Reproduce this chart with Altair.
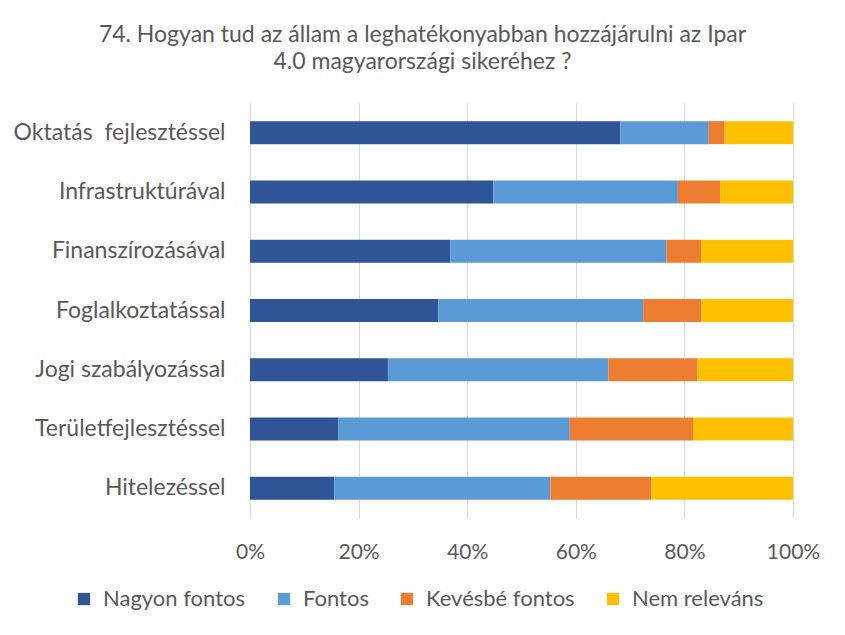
import altair as alt
import pandas as pd

categories = ["Oktatás\u00a0 fejlesztéssel", "Infrastruktúrával", "Finanszírozásával",
              "Foglalkoztatással", "Jogi szabályozással", "Területfejlesztéssel", "Hitelezéssel"]
series = ["Nagyon fontos", "Fontos", "Kevésbé fontos", "Nem releváns"]
nagyon_fontos = [68.2, 44.8, 36.9, 34.7, 25.4, 16.3, 15.5]
fontos = [16.3, 34.0, 39.8, 37.7, 40.6, 42.6, 39.8]
kevesbe_fontos = [2.9, 7.8, 6.4, 10.7, 16.4, 22.7, 18.6]
nem_relevans = [12.6, 13.4, 16.9, 16.9, 17.6, 18.4, 26.1]
colors = ["#2F5597", "#5B9BD5", "#ED7D31", "#FFC000"]
x_ticks = [0, 0.2, 0.4, 0.6, 0.8, 1.0]

rows = []
for s_i, (s, vals) in enumerate(zip(series, [nagyon_fontos, fontos, kevesbe_fontos, nem_relevans])):
    for c, v in zip(categories, vals):
        rows.append({"cat": c, "series": s, "value": v / 100, "order": s_i})
df = pd.DataFrame(rows)

FONT = "Lato"
GRAY = "#595959"

chart = alt.Chart(df).mark_bar(size=23).encode(
    y=alt.Y("cat:N", sort=categories, title=None,
            axis=alt.Axis(labelFontSize=23, labelColor=GRAY, labelFont=FONT, ticks=False,
                          domainColor="#D9D9D9", labelPadding=25, labelLimit=300)),
    x=alt.X("value:Q", stack="normalize", title=None,
            scale=alt.Scale(domain=[0, 1], nice=False),
            axis=alt.Axis(values=x_ticks, format=".0%", labelFontSize=21, labelColor=GRAY,
                          labelFont=FONT, ticks=False, domain=False, gridColor="#D9D9D9",
                          labelPadding=23, labelFlush=False)),
    color=alt.Color("series:N", sort=series,
                    scale=alt.Scale(domain=series, range=colors),
                    legend=alt.Legend(title=None, orient="none", direction="horizontal",
                                      columns=4, legendX=-177, legendY=485,
                                      symbolType="square", symbolSize=150, symbolStrokeWidth=0,
                                      symbolOpacity=1,
                                      labelFontSize=22, labelColor=GRAY, labelFont=FONT,
                                      columnPadding=27, labelOffset=8)),
    order=alt.Order("order:Q", sort="ascending"),
).properties(
    width=543, height=415,
    title=alt.TitleParams(
        text=["74. Hogyan tud az állam a leghatékonyabban hozzájárulni az Ipar",
              "4.0 magyarországi sikeréhez ?"],
        fontSize=23, font=FONT, color=GRAY, fontWeight="normal",
        anchor="middle", dx=-99, offset=29, lineHeight=27),
    autosize="none",
    padding={"left": 242, "top": 95, "right": 44, "bottom": 109},
).configure_view(stroke=None)

chart.save("out.html", embed_options={"renderer": "svg", "actions": False})
